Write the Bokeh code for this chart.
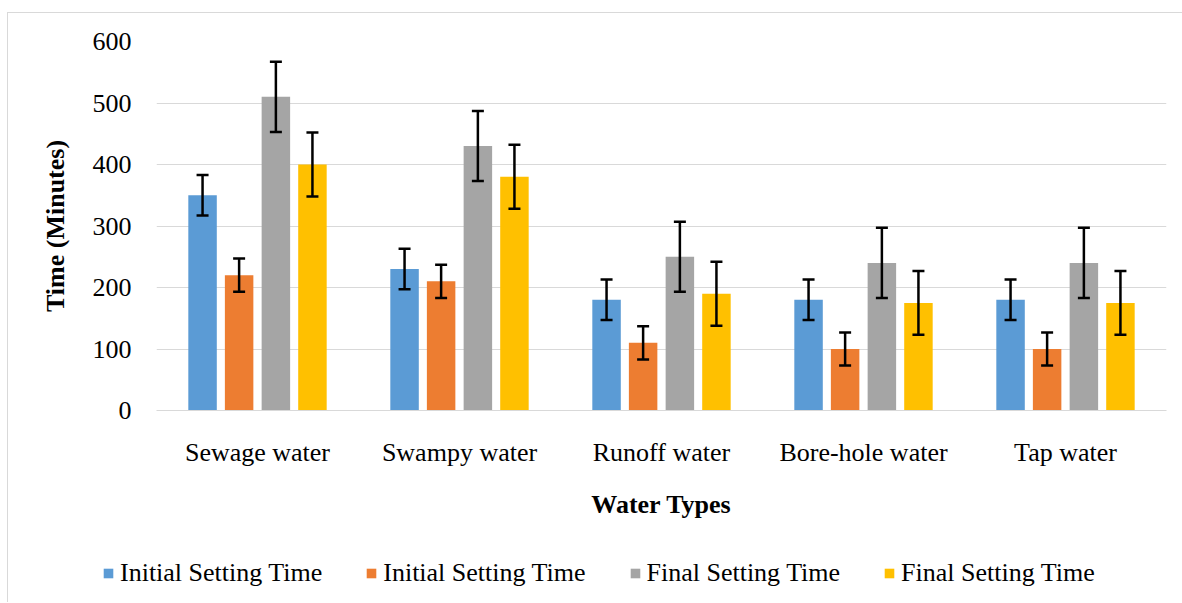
from bokeh.plotting import figure
from bokeh.models import ColumnDataSource, FactorRange, Whisker, TeeHead, Legend, LegendItem, FixedTicker, Range1d
from bokeh.transform import dodge
from bokeh.embed import file_html
from bokeh.resources import INLINE

categories = ["Sewage water", "Swampy water", "Runoff water", "Bore-hole water", "Tap water"]
series_names = ["Initial Setting Time", "Initial Setting Time", "Final Setting Time", "Final Setting Time"]
initial_a = [350, 230, 180, 180, 180]
initial_b = [220, 210, 110, 100, 100]
final_a = [510, 430, 250, 240, 240]
final_b = [400, 380, 190, 175, 175]
err_initial_a = [33, 33, 33, 33, 33]
err_initial_b = [27, 27, 27, 27, 27]
err_final_a = [57, 57, 57, 57, 57]
err_final_b = [52, 52, 52, 52, 52]
y_ticks = [0, 100, 200, 300, 400, 500, 600]

colors = ["#5B9BD5", "#ED7D31", "#A5A5A5", "#FFC000"]
offsets = [-0.272, -0.091, 0.091, 0.272]
values = [initial_a, initial_b, final_a, final_b]
errors = [err_initial_a, err_initial_b, err_final_a, err_final_b]

FONT = "Liberation Serif"
FS = "26px"
BORDER = "1px solid #d9d9d9"

p = figure(x_range=FactorRange(*categories), y_range=(0, 600),
           width=1175, height=535, output_backend="svg", toolbar_location=None,
           min_border_left=148, min_border_right=17, min_border_top=28, min_border_bottom=138)
p.margin = (12, 0, 0, 7)
p.styles = {"border-left": BORDER, "border-top": BORDER}
p.outline_line_color = None
p.background_fill_color = "white"
p.border_fill_color = "white"

# legend strip below the chart (separate root, so its frame is not aligned to the chart's)
lg = figure(width=1175, height=55, output_backend="svg", toolbar_location=None,
            x_axis_type=None, y_axis_type=None, x_range=Range1d(0, 1), y_range=Range1d(0, 1),
            min_border_left=0, min_border_right=0, min_border_top=0, min_border_bottom=0)
lg.margin = (0, 0, 0, 7)
lg.styles = {"border-left": BORDER}
lg.outline_line_color = None
lg.background_fill_color = "white"
lg.border_fill_color = "white"

items = []
for i in range(4):
    src = ColumnDataSource(dict(cat=categories, val=values[i],
                                upper=[v + e for v, e in zip(values[i], errors[i])],
                                lower=[v - e for v, e in zip(values[i], errors[i])]))
    p.vbar(x=dodge("cat", offsets[i], range=p.x_range), top="val", width=0.141,
           source=src, fill_color=colors[i], line_color=None)
    w = Whisker(source=src, base=dodge("cat", offsets[i], range=p.x_range),
                upper="upper", lower="lower", line_color="black", line_width=2.5,
                level="overlay",
                upper_head=TeeHead(size=12, line_color="black", line_width=2.5),
                lower_head=TeeHead(size=12, line_color="black", line_width=2.5))
    p.add_layout(w)
    # legend key: off-range placeholder bar carrying the series colour
    key = lg.vbar(x=[-5], top=[-5], width=0.1, fill_color=colors[i], line_color=None)
    items.append(LegendItem(label=series_names[i], renderers=[key]))

legend = Legend(items=items, orientation="horizontal", location=(94, 14),
                label_text_font=FONT, label_text_font_size=FS, label_text_color="black",
                glyph_width=12, glyph_height=12, label_standoff=6, spacing=43,
                padding=0, margin=0, border_line_color=None, background_fill_alpha=0)
lg.add_layout(legend, "center")

p.yaxis.ticker = FixedTicker(ticks=y_ticks)
p.ygrid.grid_line_color = "#d9d9d9"
p.ygrid.grid_line_width = 1
p.xgrid.grid_line_color = None

for ax in (p.xaxis[0], p.yaxis[0]):
    ax.major_tick_line_color = None
    ax.minor_tick_line_color = None
    ax.major_label_text_font = FONT
    ax.major_label_text_font_size = FS
    ax.major_label_text_color = "black"
    ax.axis_label_text_font = FONT
    ax.axis_label_text_font_size = FS
    ax.axis_label_text_font_style = "bold"
    ax.axis_label_text_color = "black"

p.yaxis.axis_line_color = None
p.yaxis.major_label_standoff = 19
p.yaxis.axis_label = "Time (Minutes)"
p.yaxis.axis_label_standoff = 20

p.xaxis.axis_line_color = "#d9d9d9"
p.xaxis.major_label_standoff = 21
p.xaxis.axis_label = "Water Types"
p.xaxis.axis_label_standoff = 20

open("out.html", "w").write(file_html([p, lg], INLINE))
